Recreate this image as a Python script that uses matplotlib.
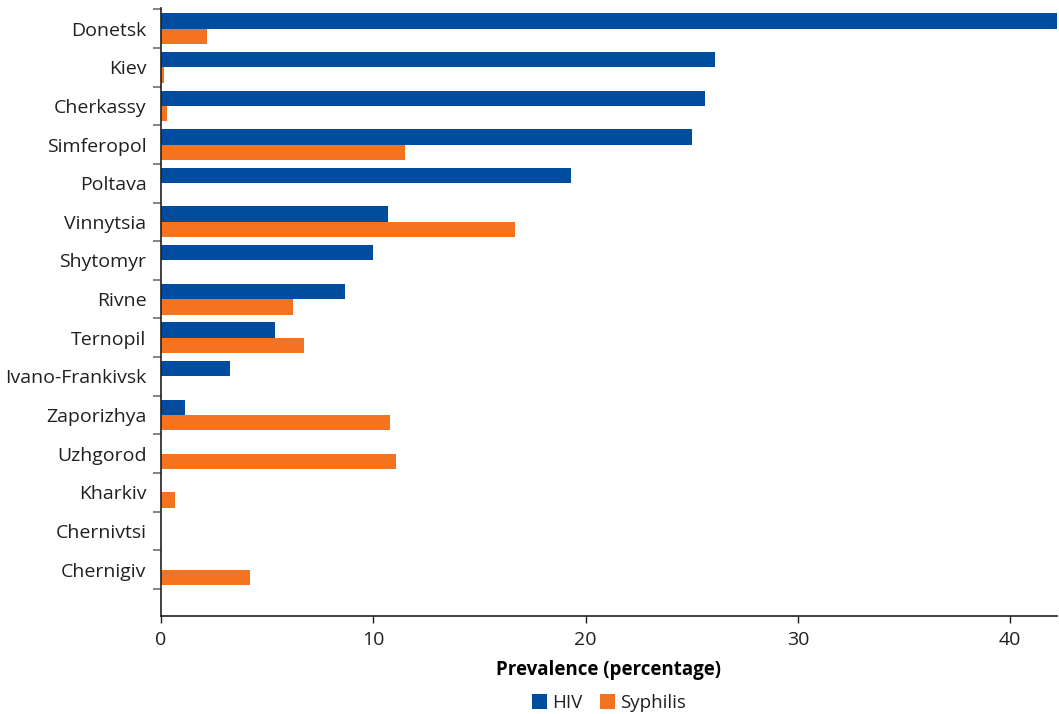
import matplotlib
matplotlib.use("Agg")
import matplotlib.pyplot as plt
import numpy as np
from matplotlib.ticker import FixedLocator

cities = ["Donetsk", "Kiev", "Cherkassy", "Simferopol", "Poltava", "Vinnytsia",
          "Shytomyr", "Rivne", "Ternopil", "Ivano-Frankivsk", "Zaporizhya",
          "Uzhgorod", "Kharkiv", "Chernivtsi", "Chernigiv"]
hiv = [42.2, 26.1, 25.6, 25.0, 19.3, 10.7, 10.0, 8.65, 5.35, 3.25, 1.15,
       0, 0, 0, 0]
syphilis = [2.15, 0.15, 0.3, 11.5, 0, 16.65, 0, 6.2, 6.75, 0, 10.8,
            11.05, 0.65, 0, 4.2]
xticks = [0, 10, 20, 30, 40]

BLUE = "#004c9f"
ORANGE = "#f47321"
TXT = "#231f20"

plt.rcParams["font.family"] = ["Open Sans", "DejaVu Sans"]
plt.rcParams["text.color"] = TXT

fig = plt.figure(figsize=(10.59, 7.14), dpi=100)
ax = fig.add_axes([161 / 1059, 1 - 615.5 / 714, (1057 - 161) / 1059, (615.5 - 8) / 714])

y = np.arange(len(cities))
h = 0.4
ax.barh(y - h / 2, hiv, height=h, color=BLUE, label="HIV")
ax.barh(y + h / 2, syphilis, height=h, color=ORANGE, label="Syphilis")

ax.set_xlim(0, 42.2)
ax.set_ylim(15.19, -0.536)

ax.set_yticks(y)
ax.set_yticklabels(cities)
ax.yaxis.set_minor_locator(FixedLocator(np.arange(len(cities) + 1) - 0.5))
ax.tick_params(axis="y", which="major", length=0, pad=10.5, labelsize=14, labelcolor=TXT)
ax.tick_params(axis="y", which="minor", length=6, width=1.2, color="#6d6e71")

ax.set_xticks(xticks)
ax.tick_params(axis="x", length=5, width=1, color=TXT, pad=6, labelsize=14, labelcolor=TXT)

for s in ["top", "right"]:
    ax.spines[s].set_visible(False)
for s in ["left", "bottom"]:
    ax.spines[s].set_color(TXT)
    ax.spines[s].set_linewidth(1.2)

ax.set_xlabel("Prevalence (percentage)", fontsize=13.5, fontweight="bold", labelpad=8)

fig.legend(loc="center", bbox_to_anchor=(609 / 1059, 1 - 703 / 714), ncol=2,
           frameon=False, fontsize=13.5, handlelength=0.8, handleheight=0.8,
           handletextpad=0.3, columnspacing=0.9)

fig.savefig("out.png", dpi=100)
